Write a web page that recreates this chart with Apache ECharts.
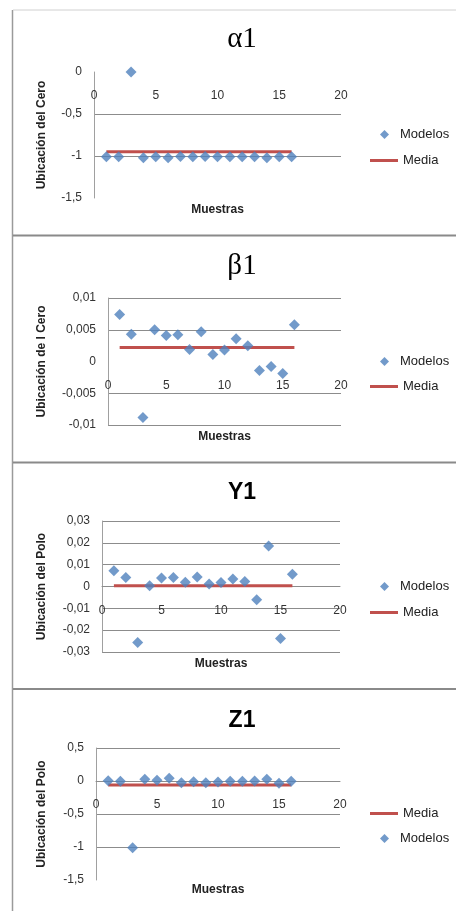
<!DOCTYPE html>
<html><head><meta charset="utf-8">
<script src="https://cdn.jsdelivr.net/npm/echarts@6/dist/echarts.min.js"></script>
<style>html,body{margin:0;padding:0;background:#fff}#c{width:456px;height:911px}</style>
</head><body><div id="c"></div>
<script>
// ---- data ----
const muestras = [1, 2, 3, 4, 5, 6, 7, 8, 9, 10, 11, 12, 13, 14, 15, 16];
const alphaModelos = [-1.01, -1.01, 0, -1.02, -1.01, -1.02, -1.005, -1.01, -1.005, -1.01, -1.01, -1.01, -1.01, -1.02, -1.01, -1.01];
const alphaMedia = -0.95;
const betaModelos = [0.0074, 0.0043, -0.0088, 0.0050, 0.0041, 0.0042, 0.0019, 0.0047, 0.0011, 0.0018, 0.0036, 0.0025, -0.0014, -0.0008, -0.0019, 0.0058];
const betaMedia = 0.0022;
const y1Modelos = [0.0072, 0.0041, -0.0256, 0.0003, 0.0039, 0.0041, 0.0020, 0.0044, 0.0011, 0.0018, 0.0034, 0.0023, -0.0061, 0.0186, -0.0238, 0.0056];
const y1Media = 0.0003;
const z1Modelos = [0.005, -0.005, -1.01, 0.025, 0.01, 0.04, -0.025, -0.01, -0.025, -0.015, -0.005, -0.005, 0, 0.025, -0.035, -0.005];
const z1Media = -0.06;
const mediaRange = [1, 16];
const xTicks = {min: 0, max: 20, interval: 5};
const titles = ['α1', 'β1', 'Y1', 'Z1'];
const yTitles = ['Ubicación del Cero', 'Ubicación de l Cero', 'Ubicación del Polo', 'Ubicación del Polo'];
const yScales = [
  {min: -1.5, max: 0, interval: 0.5},
  {min: -0.01, max: 0.01, interval: 0.005},
  {min: -0.03, max: 0.03, interval: 0.01},
  {min: -1.5, max: 0.5, interval: 0.5}
];
const xTitle = 'Muestras';
const xCrossValue = 0;

// ---- layout ----
const grids = [
  {left: 94, top: 72, width: 247, height: 126},
  {left: 108, top: 298, width: 233, height: 127},
  {left: 102, top: 521, width: 238, height: 131},
  {left: 96, top: 748, width: 244, height: 132}
];
const titleY = [38, 265, 490, 718];
const titleStyles = [
  {fontFamily: 'Liberation Serif', fontWeight: 'normal', fontSize: 29},
  {fontFamily: 'Liberation Serif', fontWeight: 'normal', fontSize: 29},
  {fontFamily: 'Liberation Sans', fontWeight: 'bold', fontSize: 23},
  {fontFamily: 'Liberation Sans', fontWeight: 'bold', fontSize: 23}
];
const xTitleY = [210, 437, 664, 890];
const nameGaps = [46, 60, 54, 48];
const splitColors = [
  ['rgba(0,0,0,0)', '#8c8c8c', '#8c8c8c', 'rgba(0,0,0,0)'],
  ['#8c8c8c', '#8c8c8c', 'rgba(0,0,0,0)', '#8c8c8c', '#8c8c8c'],
  ['#8c8c8c'],
  ['rgba(0,0,0,0)', '#8c8c8c', '#8c8c8c', '#8c8c8c', '#8c8c8c']
];
const xLineColors = ['rgba(0,0,0,0)', 'rgba(0,0,0,0)', '#8c8c8c', '#8c8c8c'];
const legendPos = [
  {modelos: 133, media: 159},
  {modelos: 360, media: 385},
  {modelos: 585, media: 611},
  {modelos: 837, media: 812}
];

const blue = '#4F81BD', red = '#C0504D';
const fmt = v => String(v).replace('.', ',');
const modelosSets = [alphaModelos, betaModelos, y1Modelos, z1Modelos];
const mediaVals = [alphaMedia, betaMedia, y1Media, z1Media];

const option = {
  animation: false,
  backgroundColor: '#fff',
  title: titles.map((t, i) => ({
    text: t, left: 237, textAlign: 'center', top: titleY[i] - titleStyles[i].fontSize * 0.62,
    textStyle: Object.assign({color: '#000'}, titleStyles[i])
  })),
  grid: grids.map(g => Object.assign({containLabel: false}, g)),
  xAxis: grids.map((g, i) => ({
    type: 'value', gridIndex: i, min: xTicks.min, max: xTicks.max, interval: xTicks.interval,
    position: 'bottom', offset: 0,
    axisLine: {show: true, onZero: false, lineStyle: {color: xLineColors[i], width: 1}},
    axisTick: {show: false},
    splitLine: {show: false},
    axisLabel: {margin: 18, fontSize: 12, color: '#333', fontFamily: 'Liberation Sans'}
  })),
  yAxis: yScales.map((s, i) => ({
    type: 'value', gridIndex: i, min: s.min, max: s.max, interval: s.interval,
    name: yTitles[i], nameLocation: 'middle', nameGap: nameGaps[i],
    nameTextStyle: {fontSize: 12, fontWeight: 'bold', color: '#222', fontFamily: 'Liberation Sans'},
    axisLine: {show: true, onZero: false, lineStyle: {color: '#a0a0a0', width: 1}},
    axisTick: {show: false},
    splitLine: {show: true, lineStyle: {color: splitColors[i], width: 1}},
    axisLabel: {margin: 12, fontSize: 12, color: '#333', fontFamily: 'Liberation Sans', formatter: fmt}
  })),
  legend: [],
  series: [],
  graphic: []
};

for (let i = 0; i < 4; i++) {
  const scatter = {
    type: 'scatter', name: 'Modelos', xAxisIndex: i, yAxisIndex: i,
    symbol: 'diamond', symbolSize: 11, itemStyle: {color: blue},
    data: muestras.map((m, k) => [m, modelosSets[i][k]]), z: 3
  };
  const line = {
    type: 'line', name: 'Media', xAxisIndex: i, yAxisIndex: i,
    symbol: 'none', lineStyle: {color: red, width: 3}, itemStyle: {color: red},
    data: mediaRange.map(m => [m, mediaVals[i]]), z: 2
  };
  if (i === 3) { option.series.push(line, scatter); } else { option.series.push(scatter, line); }
  option.legend.push({
    data: ['Modelos'], left: 375, top: legendPos[i].modelos - 10, icon: 'diamond',
    itemWidth: 9, itemHeight: 9, selectedMode: false,
    textStyle: {fontSize: 13, color: '#222', fontFamily: 'Liberation Sans', padding: [0, 0, 0, 6]}
  });
  option.legend.push({
    data: [{name: 'Media', icon: 'rect'}], left: 365, top: legendPos[i].media - 10,
    itemWidth: 28, itemHeight: 3, selectedMode: false,
    textStyle: {fontSize: 13, color: '#222', fontFamily: 'Liberation Sans'}
  });
  option.graphic.push({
    type: 'text', x: grids[i].left + grids[i].width / 2, y: xTitleY[i],
    style: {text: xTitle, align: 'center', verticalAlign: 'middle', font: 'bold 12px "Liberation Sans"', fill: '#222'}
  });
}

// frame lines
option.graphic.push(
  {type: 'line', shape: {x1: 12.5, y1: 10, x2: 12.5, y2: 911}, style: {stroke: '#9a9a9a', lineWidth: 1.5}, z: 10},
  {type: 'line', shape: {x1: 13, y1: 10, x2: 456, y2: 10}, style: {stroke: '#d0d0d0', lineWidth: 1}, z: 10},
  {type: 'line', shape: {x1: 13, y1: 235.5, x2: 456, y2: 235.5}, style: {stroke: '#8a8a8a', lineWidth: 2}, z: 10},
  {type: 'line', shape: {x1: 13, y1: 462.5, x2: 456, y2: 462.5}, style: {stroke: '#8a8a8a', lineWidth: 2}, z: 10},
  {type: 'line', shape: {x1: 13, y1: 689, x2: 456, y2: 689}, style: {stroke: '#8a8a8a', lineWidth: 2}, z: 10}
);

const chart = echarts.init(document.getElementById('c'), null, {renderer: 'canvas'});
chart.setOption(option);
// place each x axis where its y axis crosses zero (Excel style), using the library's scale
const offsets = yScales.map((s, i) => {
  const yZero = chart.convertToPixel({yAxisIndex: i}, xCrossValue);
  return yZero - (grids[i].top + grids[i].height);
});
chart.setOption({xAxis: offsets.map(o => ({offset: o}))});
</script>
</body></html>
